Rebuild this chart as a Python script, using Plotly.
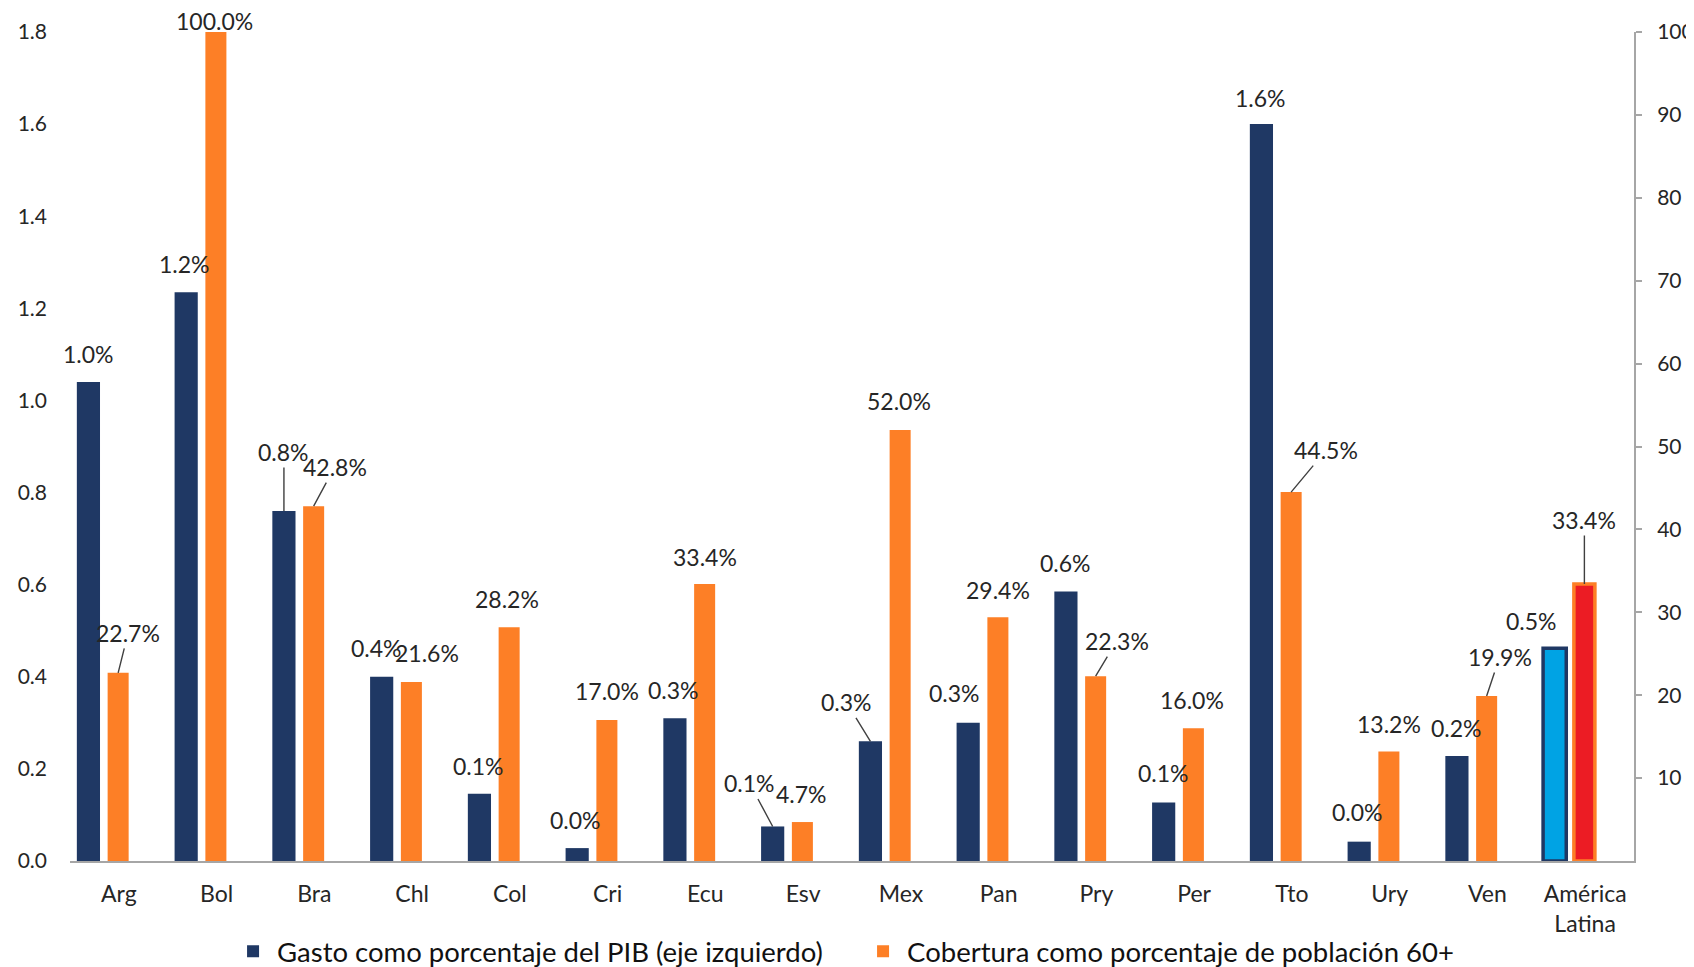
import plotly.graph_objects as go

# data
categorias = ["Arg", "Bol", "Bra", "Chl", "Col", "Cri", "Ecu", "Esv", "Mex",
              "Pan", "Pry", "Per", "Tto", "Ury", "Ven", "América<br>Latina"]
gasto_pib = [1.04, 1.235, 0.76, 0.40, 0.146, 0.028, 0.31, 0.075, 0.26,
             0.30, 0.585, 0.127, 1.60, 0.042, 0.228, 0.462]
cobertura = [22.7, 100.0, 42.8, 21.6, 28.2, 17.0, 33.4, 4.7, 52.0,
             29.4, 22.3, 16.0, 44.5, 13.2, 19.9, 33.4]

# label placement (pixel offsets from bar top) and leader lines
off_gasto = [(0, -28, False), (-2, -28, False), (0, -59, True), (-5, -29, False),
             (-1, -28, False), (-2, -28, False), (-1, -28, False), (-23, -43, True),
             (-24, -39, True), (-14, -30, False), (0, -29, False), (0, -30, False),
             (-1, -26, False), (-2, -30, False), (0, -28, False), (-23, -27, False)]
off_cob = [(10, -40, True), (-1, -11, False), (21, -39, True), (16, -29, False),
           (-2, -28, False), (0, -29, False), (0, -27, False), (-1, -28, False),
           (-1, -29, False), (0, -27, False), (21, -35, True), (-1, -28, False),
           (35, -42, True), (0, -28, False), (13, -39, True), (0, -64, True)]

NAVY = "#1f3864"
ORANGE = "#fd7f26"
FONT = "Lato"

idx = list(range(len(categorias)))
n = len(categorias)

g_w, g_off = 0.237, -0.43
c_w, c_off = 0.215, -0.115

fig = go.Figure()
fig.add_bar(
    x=idx, y=gasto_pib, name="Gasto como porcentaje del PIB (eje izquierdo)",
    width=g_w, offset=g_off, yaxis="y",
    marker=dict(color=[NAVY] * (n - 1) + ["#00a3e4"],
                line=dict(color=NAVY, width=[0] * (n - 1) + [3.5])),
)
fig.add_bar(
    x=idx, y=cobertura, name="Cobertura como porcentaje de población 60+",
    width=c_w, offset=c_off, yaxis="y2",
    marker=dict(color=[ORANGE] * (n - 1) + ["#ec1c24"],
                line=dict(color=ORANGE, width=[0] * (n - 1) + [3.5])),
)

annotations = []
for i, v in enumerate(gasto_pib):
    dx, dy, lead = off_gasto[i]
    annotations.append(dict(
        x=i + g_off + g_w / 2, y=v, xref="x", yref="y",
        text=f"{v:.1f}%", showarrow=True, ax=dx, ay=dy, arrowhead=0,
        arrowwidth=1.4, standoff=0,
        arrowcolor="#404040" if lead else "rgba(0,0,0,0)",
        font=dict(family=FONT, size=23, color="#262626"),
    ))
for i, v in enumerate(cobertura):
    dx, dy, lead = off_cob[i]
    annotations.append(dict(
        x=i + c_off + c_w / 2, y=v, xref="x", yref="y2",
        text=f"{v:.1f}%", showarrow=True, ax=dx, ay=dy, arrowhead=0,
        arrowwidth=1.4, standoff=0,
        arrowcolor="#404040" if lead else "rgba(0,0,0,0)",
        font=dict(family=FONT, size=23, color="#262626"),
    ))

# page body has an 8px margin, so the figure is 8px smaller and shifted
fig.update_layout(
    width=1686, height=959,
    margin=dict(l=62, r=60, t=24, b=106, autoexpand=False),
    paper_bgcolor="white", plot_bgcolor="white",
    font=dict(family=FONT, size=21, color="#262626"),
    barmode="overlay",
    annotations=annotations,
    legend=dict(
        orientation="h", x=0.1017, xanchor="left", y=-0.109, yanchor="middle",
        font=dict(family=FONT, size=27.5, color="#111111"),
        itemwidth=38, entrywidth=577, entrywidthmode="pixels",
        bgcolor="rgba(0,0,0,0)",
    ),
    xaxis=dict(
        range=[-0.5, n - 0.5], tickvals=idx, ticktext=categorias,
        showline=True, linecolor="#a6a6a6", linewidth=2, automargin=False,
        showgrid=False, zeroline=False, ticks="", ticklabelstandoff=11,
        tickfont=dict(family=FONT, size=23, color="#262626"),
    ),
    yaxis=dict(
        range=[0, 1.8], tickvals=[i * 0.2 for i in range(10)], tickformat=".1f",
        showline=False, showgrid=False, zeroline=False, ticks="",
        ticklabelstandoff=22, automargin=False,
        tickfont=dict(family=FONT, size=21, color="#262626"),
    ),
    yaxis2=dict(
        range=[0, 100], tickvals=list(range(10, 101, 10)), overlaying="y",
        side="right", showline=True, linecolor="#a6a6a6", linewidth=2,
        ticks="outside", ticklen=6, tickcolor="#a6a6a6", tickwidth=2,
        showgrid=False, zeroline=False, ticklabelstandoff=11, automargin=False,
        tickfont=dict(family=FONT, size=21, color="#262626"),
    ),
)

fig.write_html("out.html")
